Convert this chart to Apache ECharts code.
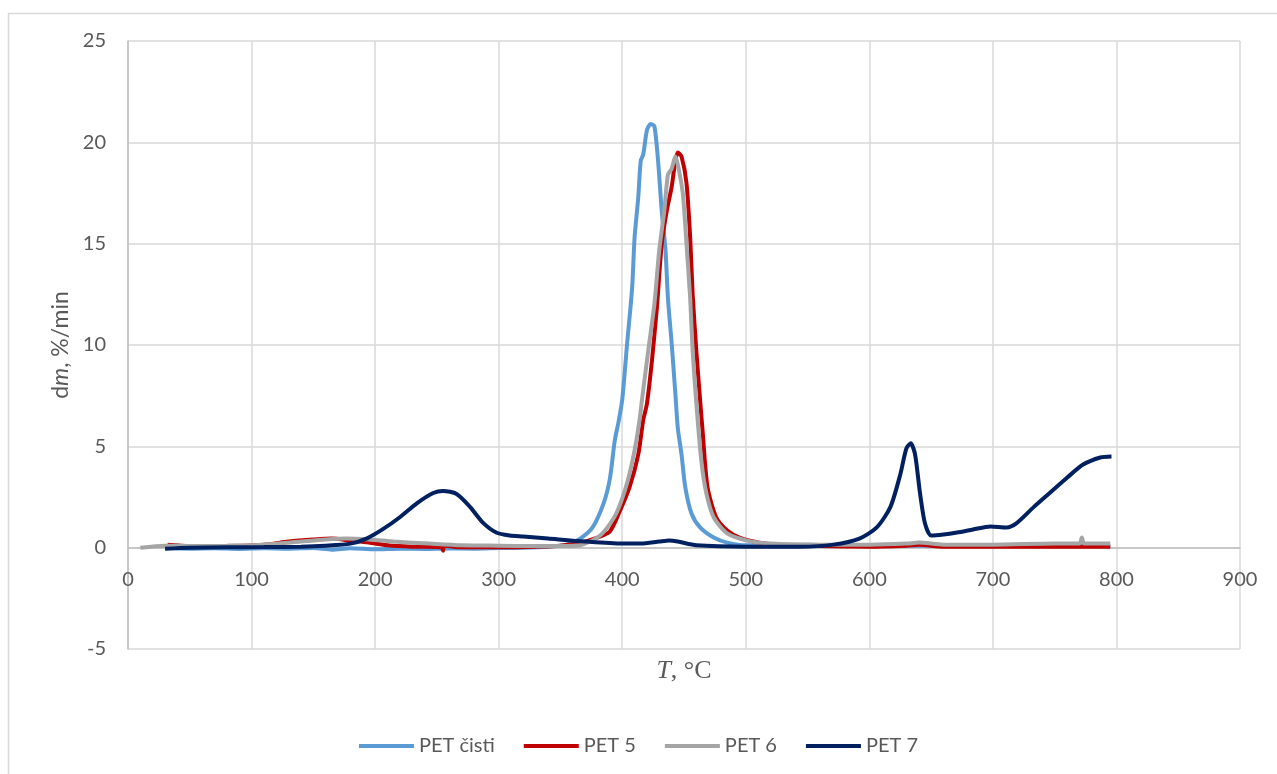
<!DOCTYPE html>
<html>
<head>
<meta charset="utf-8">
<script src="https://cdn.jsdelivr.net/npm/echarts@6/dist/echarts.min.js"></script>
<style>
html,body{margin:0;padding:0;background:#fff;overflow:hidden;}
#chart{width:1277px;height:774px;}
</style>
</head>
<body>
<div id="chart"></div>
<script>
// ---- data ----
const seriesNames = ['PET čisti', 'PET 5', 'PET 6', 'PET 7'];
const xTicks = [0, 100, 200, 300, 400, 500, 600, 700, 800, 900];
const yTicks = [-5, 0, 5, 10, 15, 20, 25];

const petCistiT = [30, 50, 70, 90, 110, 130, 150, 165, 180, 200, 220, 240, 260, 280, 300, 320, 340, 355, 366, 376, 385, 390, 394, 397, 400, 404, 408, 410, 413, 415, 417, 420, 423, 426, 429, 432, 435, 437, 440, 443, 445, 448, 451, 456, 463, 474, 485, 501, 520, 550, 600, 650, 700, 750, 795];
const petCistiDm = [-0.02, -0.05, -0.03, -0.06, -0.03, -0.05, -0.02, -0.1, -0.03, -0.08, -0.05, -0.06, -0.04, -0.05, -0.02, 0.0, 0.05, 0.15, 0.45, 1.0, 2.2, 3.4, 5.3, 6.2, 7.3, 10.1, 12.8, 15.3, 17.3, 19.1, 19.4, 20.6, 20.9, 20.8, 19.1, 16.6, 14.7, 12.3, 10.1, 7.6, 5.9, 4.6, 3.0, 1.7, 1.0, 0.5, 0.25, 0.12, 0.12, 0.15, 0.1, 0.1, 0.1, 0.1, 0.1];

const pet5T = [32, 50, 80, 110, 130, 150, 165, 180, 195, 210, 230, 254, 255, 256, 270, 300, 330, 350, 366, 380, 390, 398, 406, 413, 417, 420, 424, 428, 432, 436, 440, 443, 445, 448, 452, 455, 457, 460, 463, 465, 469, 476, 485, 495, 511, 530, 560, 600, 630, 640, 660, 700, 750, 795];
const pet5Dm = [0.15, 0.08, 0.08, 0.15, 0.3, 0.4, 0.45, 0.35, 0.25, 0.12, 0.05, 0.02, -0.15, 0.1, 0.02, 0.02, 0.05, 0.1, 0.25, 0.5, 0.8, 1.8, 3.0, 4.6, 6.3, 7.1, 9.2, 11.8, 15.0, 16.6, 17.8, 19.1, 19.5, 19.3, 18.0, 15.3, 12.5, 9.7, 7.3, 5.8, 3.0, 1.5, 0.85, 0.5, 0.25, 0.12, 0.08, 0.05, 0.1, 0.15, 0.05, 0.05, 0.05, 0.05];

const pet6T = [10, 30, 50, 80, 110, 140, 160, 177, 195, 215, 244, 270, 300, 330, 350, 366, 380, 388, 396, 404, 410, 414, 416, 421, 426, 430, 434, 437, 440, 443, 445, 449, 452, 455, 457, 460, 464, 468, 474, 485, 501, 520, 560, 600, 630, 640, 660, 700, 750, 770, 772, 774, 795];
const pet6Dm = [0.0, 0.1, 0.08, 0.1, 0.15, 0.3, 0.4, 0.45, 0.4, 0.3, 0.2, 0.12, 0.1, 0.08, 0.08, 0.12, 0.5, 1.0, 1.8, 3.2, 4.8, 6.3, 7.3, 9.7, 12.0, 14.7, 16.6, 18.4, 18.7, 19.3, 18.9, 17.5, 15.0, 12.3, 9.7, 7.1, 4.3, 2.7, 1.5, 0.7, 0.35, 0.2, 0.15, 0.15, 0.2, 0.25, 0.15, 0.15, 0.2, 0.2, 0.5, 0.2, 0.2];

const pet7T = [30, 50, 80, 110, 140, 160, 180, 193, 206, 220, 234, 247, 255, 266, 277, 287, 298, 309, 320, 340, 370, 400, 415, 430, 438, 445, 460, 500, 544, 571, 592, 606, 617, 625, 630, 633.5, 637, 641, 645, 650, 660, 671, 684, 698, 711, 719, 733, 746, 760, 773, 787, 796];
const pet7Dm = [-0.05, 0.0, 0.02, 0.03, 0.05, 0.1, 0.2, 0.45, 0.9, 1.5, 2.2, 2.7, 2.8, 2.65, 2.0, 1.25, 0.75, 0.6, 0.55, 0.45, 0.3, 0.2, 0.2, 0.3, 0.35, 0.3, 0.12, 0.05, 0.05, 0.15, 0.45, 1.0, 2.0, 3.6, 4.9, 5.15, 4.6, 2.7, 1.2, 0.6, 0.65, 0.75, 0.9, 1.05, 1.0, 1.2, 2.0, 2.7, 3.45, 4.1, 4.45, 4.5];

const colors = ['#5B9BD5', '#C00000', '#A5A5A5', '#002060'];

// ---- build ----
function zip(xs, ys) { return xs.map((x, i) => [x, ys[i]]); }
const allData = [zip(petCistiT, petCistiDm), zip(pet5T, pet5Dm), zip(pet6T, pet6Dm), zip(pet7T, pet7Dm)];

const W = 1277, H = 774;
const G = { left: 128, right: 37, top: 41, bottom: 125 };
const yMin = yTicks[0], yMax = yTicks[yTicks.length - 1];
const plotH = H - G.top - G.bottom;
// move the x axis (line, labels, name) up to the y = 0 position
const xAxisOffset = -plotH * (0 - yMin) / (yMax - yMin);

const chart = echarts.init(document.getElementById('chart'), null, { width: W, height: H });
const FONT = 'Lato, "Open Sans", sans-serif';
chart.setOption({
  animation: false,
  backgroundColor: '#fff',
  color: colors,
  graphic: [{
    type: 'rect', left: 6, top: 11, z: -10,
    shape: { width: 1300, height: 800 },
    style: { fill: 'none', stroke: '#D9D9D9', lineWidth: 1.5 }
  }],
  grid: Object.assign({ outerBoundsMode: 'none', containLabel: false }, G),
  legend: {
    bottom: 13, left: 'center',
    icon: 'rect', itemWidth: 55, itemHeight: 4, itemGap: 29,
    textStyle: { fontFamily: FONT, fontSize: 20, color: '#595959' },
    data: seriesNames
  },
  xAxis: {
    type: 'value', min: xTicks[0], max: xTicks[xTicks.length - 1], interval: 100,
    position: 'bottom', offset: xAxisOffset,
    axisLine: { onZero: false, lineStyle: { color: '#BFBFBF', width: 1.5 } },
    axisTick: { show: false },
    splitLine: { show: true, lineStyle: { color: '#D9D9D9', width: 1.5 } },
    axisLabel: { fontFamily: FONT, fontSize: 20, color: '#595959', margin: 22 },
    name: '{i|T}{n|, °C}', nameLocation: 'middle', nameGap: 111,
    nameTextStyle: {
      rich: {
        i: { fontFamily: '"Liberation Serif", serif', fontStyle: 'italic', fontSize: 26, color: '#595959' },
        n: { fontFamily: '"Liberation Serif", serif', fontSize: 26, color: '#595959' }
      }
    }
  },
  yAxis: {
    type: 'value', min: yMin, max: yMax, interval: 5,
    axisLine: { show: true, onZero: false, lineStyle: { color: '#BFBFBF', width: 1.5 } },
    axisTick: { show: false },
    splitLine: { show: true, lineStyle: { color: '#D9D9D9', width: 1.5 } },
    axisLabel: { fontFamily: FONT, fontSize: 20, color: '#595959', margin: 22 },
    name: '{n|d}{i|m}{n|, %/min}', nameLocation: 'middle', nameGap: 56, nameRotate: 90,
    nameTextStyle: {
      rich: {
        i: { fontFamily: FONT, fontStyle: 'italic', fontSize: 23, color: '#595959' },
        n: { fontFamily: FONT, fontSize: 23, color: '#595959' }
      }
    }
  },
  series: allData.map((d, i) => ({
    name: seriesNames[i],
    type: 'line',
    data: d,
    showSymbol: false,
    symbol: 'none',
    smooth: 0.25,
    lineStyle: { width: 4, color: colors[i] },
    z: 2 + i
  }))
});
</script>
</body>
</html>
